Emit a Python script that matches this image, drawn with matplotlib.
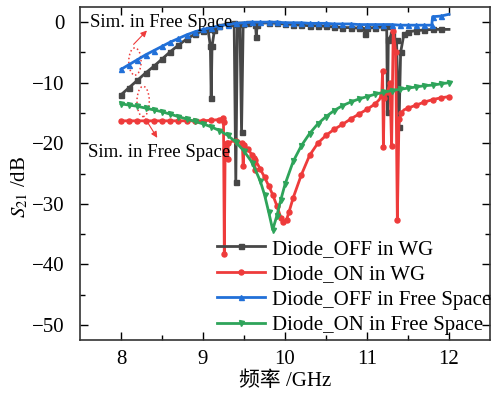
import matplotlib
matplotlib.use("Agg")
import matplotlib.pyplot as plt
from matplotlib.patches import Ellipse

OUTPUT_GRAPH = "out.png"

# Diode_OFF in WG
freq_off_wg = [8.0, 8.1, 8.2, 8.3, 8.4, 8.5, 8.6, 8.7, 8.8, 8.9, 9.0, 9.06, 9.09, 9.1, 9.11, 9.14,
               9.2, 9.3, 9.38, 9.4, 9.42, 9.45, 9.47, 9.49, 9.55, 9.6, 9.64, 9.65, 9.66, 9.7, 9.8,
               9.9, 10.0, 10.1, 10.2, 10.3, 10.4, 10.5, 10.6, 10.7, 10.8, 10.9, 10.96, 10.98, 11.0,
               11.1, 11.2, 11.24, 11.25, 11.26, 11.3, 11.36, 11.39, 11.41, 11.45, 11.5, 11.6, 11.7,
               11.8, 11.9, 12.0]
s21_off_wg = [-12.0, -10.8, -9.6, -8.4, -7.3, -6.1, -4.9, -3.8, -2.8, -2.0, -1.4, -1.1, -4.0, -12.5, -4.0, -1.3,
              -0.6, -0.3, -0.2, -26.4, -0.3, -0.3, -18.1, -0.3, -0.2, -0.2, -0.4, -2.4, -0.4, -0.2, -0.1,
              -0.2, -0.3, -0.4, -0.5, -0.6, -0.6, -0.7, -0.8, -0.9, -0.9, -1.0, -1.0, -2.0, -1.0,
              -0.9, -0.8, -0.7, -14.8, -3.0, -2.0, -3.0, -17.3, -5.0, -2.0, -1.6, -1.4, -1.3,
              -1.2, -1.2, -1.2]

# Diode_ON in WG
freq_on_wg = [8.0, 8.1, 8.2, 8.3, 8.4, 8.5, 8.6, 8.7, 8.8, 8.9, 9.0, 9.1, 9.2, 9.24, 9.25, 9.26,
              9.27, 9.29, 9.3, 9.31, 9.35, 9.4, 9.45, 9.48, 9.49, 9.5, 9.55, 9.6, 9.62, 9.63, 9.64,
              9.7, 9.75, 9.8, 9.85, 9.9, 9.95, 9.98, 10.02, 10.05, 10.1, 10.2, 10.3, 10.4, 10.5,
              10.6, 10.7, 10.8, 10.9, 11.0, 11.1, 11.15, 11.18, 11.19, 11.2, 11.21, 11.25, 11.28,
              11.3, 11.32, 11.35, 11.37, 11.39, 11.42, 11.45, 11.5, 11.6, 11.7, 11.8, 11.9, 12.0]
s21_on_wg = [-16.3, -16.3, -16.3, -16.3, -16.3, -16.3, -16.3, -16.3, -16.3, -16.3, -16.3, -16.2, -16.1, -15.8, -16.5, -38.3,
             -21.0, -20.0, -22.6, -20.0, -19.7, -19.6, -19.8, -20.0, -23.8, -20.3, -21.0, -22.0, -22.4, -24.5, -22.8,
             -24.3, -25.6, -27.0, -28.5, -30.3, -32.3, -33.0, -32.6, -31.3, -29.0, -25.2, -22.0, -20.0, -18.7,
             -17.7, -16.9, -16.0, -15.2, -14.4, -13.5, -12.8, -12.0, -8.1, -20.6, -12.5, -11.5, -10.0,
             -20.5, -1.5, -5.0, -32.6, -16.0, -15.0, -14.5, -14.2, -13.7, -13.2, -12.8, -12.5, -12.3]

# Diode_OFF in Free Space
freq_off_fs = [8.0, 8.1, 8.2, 8.3, 8.4, 8.5, 8.6, 8.7, 8.8, 8.9, 9.0, 9.1, 9.2, 9.3, 9.4, 9.5,
               9.6, 9.7, 9.8, 9.9, 10.0, 10.1, 10.2, 10.3, 10.4, 10.5, 10.6, 10.7, 10.8, 10.9, 11.0,
               11.1, 11.2, 11.3, 11.4, 11.5, 11.6, 11.7, 11.79, 11.8, 11.9, 12.0]
s21_off_fs = [-7.8, -7.0, -6.2, -5.4, -4.7, -4.0, -3.3, -2.7, -2.1, -1.6, -1.2, -0.9, -0.6, -0.4, -0.2, -0.1,
              0.0, 0.0, 0.0, 0.0, -0.1, -0.1, -0.1, -0.2, -0.2, -0.2, -0.3, -0.3, -0.3, -0.4, -0.4,
              -0.4, -0.4, -0.4, -0.5, -0.5, -0.5, -0.5, -0.5, 0.9, 1.0, 1.3]

# Diode_ON in Free Space
freq_on_fs = [8.0, 8.1, 8.2, 8.3, 8.4, 8.5, 8.6, 8.7, 8.8, 8.9, 9.0, 9.1, 9.2, 9.3, 9.4, 9.5,
              9.6, 9.7, 9.75, 9.8, 9.85, 9.9, 9.95, 10.0, 10.1, 10.2, 10.3, 10.4, 10.5, 10.6, 10.7,
              10.8, 10.9, 11.0, 11.1, 11.2, 11.3, 11.4, 11.5, 11.6, 11.7, 11.8, 11.9, 12.0]
s21_on_fs = [-13.5, -13.7, -13.9, -14.2, -14.5, -14.8, -15.2, -15.6, -16.0, -16.4, -16.8, -17.3, -17.9, -18.7, -19.8, -21.3,
             -23.2, -26.3, -28.5, -31.3, -34.3, -32.0, -29.3, -26.8, -23.0, -20.4, -18.4, -16.8, -15.6, -14.6, -13.8,
             -13.2, -12.7, -12.3, -11.9, -11.6, -11.3, -11.1, -10.9, -10.7, -10.5, -10.4, -10.2, -10.0]

series_labels = ["Diode_OFF in WG", "Diode_ON in WG", "Diode_OFF in Free Space", "Diode_ON in Free Space"]

plt.rcParams["font.family"] = ["Liberation Serif", "Noto Sans CJK SC"]
plt.rcParams["mathtext.fontset"] = "stix"
plt.rcParams["font.size"] = 15

fig = plt.figure(figsize=(4.92, 3.97), dpi=100)
ax = fig.add_axes([80 / 492, 1 - 340 / 397, 410 / 492, 333 / 397])

style = dict(lw=2.0, ms=3.6, markevery=0.015)
ax.plot(freq_off_wg, s21_off_wg, "s-", color="#474747", label=series_labels[0], **style)
ax.plot(freq_on_wg, s21_on_wg, "o-", color="#ee3b3b", label=series_labels[1], **style)
ax.plot(freq_off_fs, s21_off_fs, "^-", color="#2170d8", label=series_labels[2], **style)
ax.plot(freq_on_fs, s21_on_fs, "v-", color="#2ea45a", label=series_labels[3], **style)

# dotted ellipses + arrows marking the simulated curves
ax.add_patch(Ellipse((8.17, -6.5), 0.15, 4.5, fill=False, ec="#ee3b3b", ls=":", lw=1.1))
ax.add_patch(Ellipse((8.27, -13.1), 0.15, 5.0, fill=False, ec="#ee3b3b", ls=":", lw=1.1))
ax.annotate("", xy=(8.34, -1.05), xytext=(8.13, -4.0),
            arrowprops=dict(arrowstyle="-|>", color="#ee3b3b", lw=0.8, mutation_scale=9))
ax.annotate("", xy=(8.46, -19.5), xytext=(8.28, -15.6),
            arrowprops=dict(arrowstyle="-|>", color="#ee3b3b", lw=0.8, mutation_scale=9))
ax.text(7.62, 0.0, "Sim. in Free Space", ha="left", va="center", fontsize=13.5)
ax.text(7.60, -21.6, "Sim. in Free Space", ha="left", va="center", fontsize=13.5)

ax.set_xlim(7.5, 12.5)
ax.set_ylim(-52.5, 2.5)
ax.set_xticks([8, 9, 10, 11, 12])
ax.set_xticks([8.5, 9.5, 10.5, 11.5], minor=True)
ax.set_yticks([-50, -40, -30, -20, -10, 0])
ax.set_yticks([-45, -35, -25, -15, -5], minor=True)
ax.tick_params(which="both", direction="in", top=True, right=True, labelsize=15)
ax.tick_params(which="major", length=6, width=1.0)
ax.tick_params(which="minor", length=3.5, width=1.0)
ax.tick_params(axis="y", pad=11)
ax.tick_params(axis="x", pad=7)
for sp in ax.spines.values():
    sp.set_linewidth(1.2)
    sp.set_color("#333333")

ax.set_xlabel("频率 /GHz", fontsize=15, labelpad=2)
ax.set_ylabel(r"$S_{21}$ /dB", fontsize=15)
ax.yaxis.set_label_coords(-0.122, 0.46)

ax.legend(loc="lower left", bbox_to_anchor=(0.335, 0.015), frameon=False,
          borderpad=0, borderaxespad=0, handlelength=2.3, handletextpad=0.3,
          labelspacing=0.28, fontsize=15)

fig.savefig(OUTPUT_GRAPH, dpi=100)
